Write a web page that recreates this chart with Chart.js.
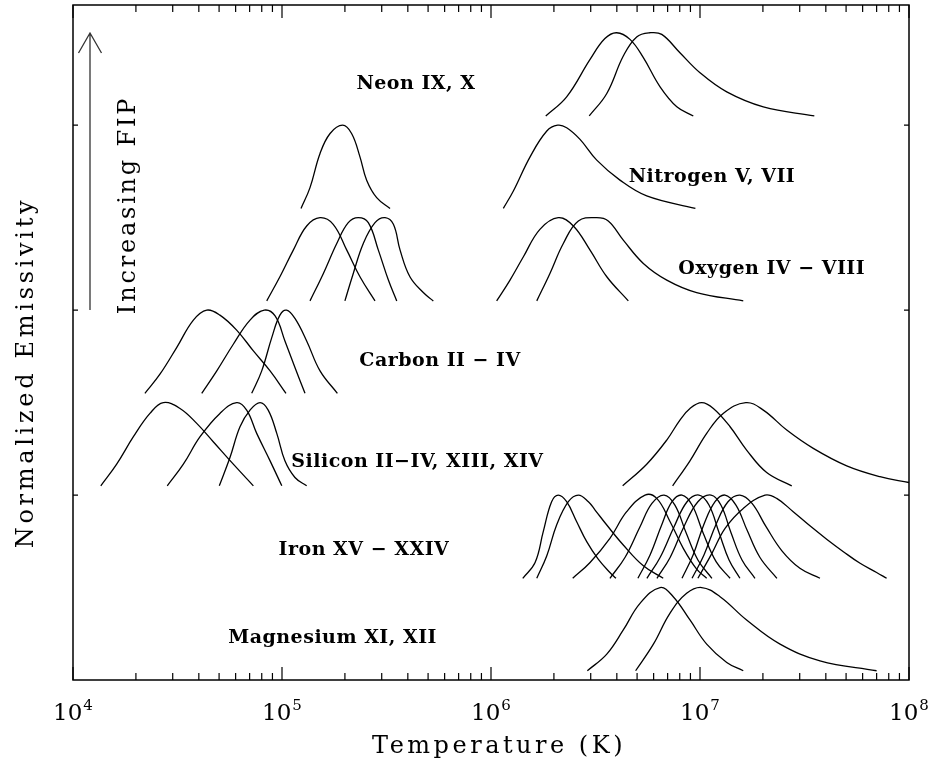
<!DOCTYPE html>
<html>
<head>
<meta charset="utf-8">
<title>Normalized Emissivity vs Temperature</title>
<script src="https://cdn.jsdelivr.net/npm/chart.js@4/dist/chart.umd.min.js"></script>
<style>
  html, body { margin: 0; padding: 0; background: #fff; }
  canvas { display: block; }
</style>
</head>
<body>
<canvas id="chart" width="937" height="765"></canvas>
<script>
// ---- Axis definitions -------------------------------------------------
const T_MIN = 1e4;
const T_MAX = 1e8;
const majorTicks = [1e4, 1e5, 1e6, 1e7, 1e8];
const majorTickExponents = ['4', '5', '6', '7', '8'];
const minorMultipliers = [2, 3, 4, 5, 6, 7, 8, 9];
const yTicks = [1, 2, 3];
const Y_MAX = 3.65;

// ---- Element rows, bottom to top --------------------------------------
const rowNames = [
  'Magnesium XI, XII',
  'Iron XV \u2212 XXIV',
  'Silicon II\u2212IV, XIII, XIV',
  'Carbon II \u2212 IV',
  'Oxygen IV \u2212 VIII',
  'Nitrogen V, VII',
  'Neon IX, X'
];

// ---- Emissivity curves: [log10 T, emissivity normalized to peak] -------
const MG_XI   = [[6.461,0],[6.554,0.20],[6.633,0.49],[6.713,0.81],[6.809,1],[6.872,0.89],[6.952,0.61],[7.032,0.32],[7.128,0.10],[7.207,0]];
const MG_XII  = [[6.692,0],[6.777,0.32],[6.856,0.69],[6.936,0.93],[7.008,1],[7.096,0.89],[7.223,0.61],[7.383,0.32],[7.574,0.12],[7.845,0]];

const FE_XV    = [[6.152,0],[6.211,0.19],[6.250,0.56],[6.290,0.92],[6.322,1],[6.362,0.92],[6.410,0.68],[6.458,0.44],[6.513,0.23],[6.569,0.07],[6.598,0]];
const FE_XVI   = [[6.219,0],[6.267,0.27],[6.314,0.64],[6.370,0.92],[6.418,1],[6.466,0.92],[6.498,0.82],[6.554,0.64],[6.633,0.40],[6.729,0.15],[6.824,0]];
const FE_XVII  = [[6.391,0],[6.474,0.19],[6.569,0.48],[6.649,0.80],[6.737,1],[6.793,0.96],[6.857,0.68],[6.920,0.36],[6.984,0.11],[7.032,0]];
const FE_XVIII = [[6.569,0],[6.641,0.25],[6.713,0.62],[6.770,0.90],[6.828,1],[6.880,0.88],[6.933,0.55],[6.990,0.22],[7.057,0]];
const FE_XIX   = [[6.703,0],[6.761,0.28],[6.818,0.65],[6.866,0.92],[6.914,1],[6.962,0.88],[7.014,0.55],[7.077,0.20],[7.144,0]];
const FE_XX    = [[6.746,0],[6.809,0.25],[6.876,0.62],[6.938,0.92],[6.995,1],[7.043,0.88],[7.091,0.55],[7.139,0.22],[7.191,0]];
const FE_XXI   = [[6.794,0],[6.857,0.25],[6.923,0.62],[6.990,0.92],[7.053,1],[7.100,0.88],[7.148,0.55],[7.201,0.22],[7.263,0]];
const FE_XXII  = [[6.914,0],[6.967,0.28],[7.019,0.65],[7.072,0.92],[7.120,1],[7.172,0.88],[7.225,0.58],[7.287,0.25],[7.368,0]];
const FE_XXIII = [[6.962,0],[7.019,0.28],[7.077,0.65],[7.134,0.92],[7.191,1],[7.249,0.90],[7.316,0.62],[7.392,0.33],[7.478,0.12],[7.574,0]];
const FE_XXIV  = [[6.990,0],[7.057,0.30],[7.120,0.60],[7.207,0.84],[7.311,1],[7.367,0.96],[7.446,0.80],[7.526,0.63],[7.606,0.47],[7.686,0.32],[7.766,0.18],[7.845,0.07],[7.893,0]];

const SI_II   = [[4.133,0],[4.209,0.26],[4.289,0.59],[4.368,0.87],[4.432,1],[4.512,0.93],[4.592,0.75],[4.671,0.53],[4.767,0.26],[4.863,0]];
const SI_III  = [[4.451,0],[4.528,0.26],[4.608,0.59],[4.703,0.87],[4.783,1],[4.831,0.91],[4.879,0.63],[4.943,0.30],[4.999,0]];
const SI_IV   = [[4.700,0],[4.751,0.34],[4.799,0.71],[4.847,0.91],[4.895,1],[4.934,0.91],[4.975,0.63],[5.014,0.30],[5.062,0.10],[5.118,0]];
const SI_XIII = [[6.630,0],[6.745,0.26],[6.841,0.55],[6.904,0.79],[6.952,0.93],[7.008,1],[7.064,0.93],[7.144,0.71],[7.223,0.43],[7.319,0.16],[7.439,0]];
const SI_XIV  = [[6.869,0],[6.952,0.30],[7.032,0.63],[7.111,0.87],[7.219,1],[7.303,0.91],[7.415,0.67],[7.542,0.45],[7.702,0.24],[7.861,0.11],[8.000,0.04]];

const C_II  = [[4.344,0],[4.416,0.23],[4.496,0.55],[4.576,0.88],[4.640,1],[4.703,0.94],[4.783,0.76],[4.863,0.51],[4.943,0.27],[5.019,0]];
const C_III = [[4.616,0],[4.688,0.27],[4.767,0.59],[4.847,0.88],[4.915,1],[4.967,0.93],[5.014,0.63],[5.062,0.31],[5.110,0]];
const C_IV  = [[4.855,0],[4.903,0.27],[4.951,0.67],[4.990,0.94],[5.022,1],[5.062,0.90],[5.118,0.63],[5.182,0.27],[5.265,0]];

const O_IV   = [[4.927,0],[4.990,0.29],[5.054,0.61],[5.118,0.90],[5.182,1],[5.245,0.92],[5.310,0.61],[5.373,0.29],[5.445,0]];
const O_V    = [[5.134,0],[5.198,0.33],[5.262,0.69],[5.317,0.94],[5.365,1],[5.413,0.94],[5.461,0.61],[5.509,0.25],[5.549,0]];
const O_VI   = [[5.301,0],[5.341,0.33],[5.389,0.69],[5.445,0.94],[5.493,1],[5.533,0.92],[5.565,0.61],[5.612,0.29],[5.676,0.10],[5.724,0]];
const O_VII  = [[6.027,0],[6.091,0.25],[6.155,0.53],[6.234,0.86],[6.322,1],[6.394,0.90],[6.474,0.61],[6.554,0.29],[6.657,0]];
const O_VIII = [[6.219,0],[6.282,0.33],[6.346,0.69],[6.418,0.96],[6.506,1],[6.561,0.96],[6.633,0.73],[6.729,0.45],[6.841,0.25],[6.984,0.10],[7.207,0]];

const N_V   = [[5.091,0],[5.134,0.25],[5.182,0.66],[5.230,0.90],[5.290,1],[5.333,0.90],[5.373,0.62],[5.405,0.34],[5.453,0.13],[5.517,0]];
const N_VII = [[6.059,0],[6.107,0.21],[6.187,0.62],[6.267,0.93],[6.319,1],[6.362,0.97],[6.426,0.83],[6.506,0.58],[6.617,0.34],[6.745,0.15],[6.978,0]];

const NE_IX = [[6.262,0],[6.362,0.23],[6.474,0.68],[6.545,0.93],[6.601,1],[6.665,0.92],[6.729,0.70],[6.809,0.35],[6.889,0.11],[6.968,0]];
const NE_X  = [[6.470,0],[6.554,0.27],[6.633,0.72],[6.697,0.95],[6.761,1],[6.817,0.98],[6.904,0.76],[7.000,0.52],[7.128,0.29],[7.303,0.11],[7.547,0]];

// Which row each ion curve belongs to (index into rowNames)
const curveRows = [
  [0, MG_XI], [0, MG_XII],
  [1, FE_XV], [1, FE_XVI], [1, FE_XVII], [1, FE_XVIII], [1, FE_XIX],
  [1, FE_XX], [1, FE_XXI], [1, FE_XXII], [1, FE_XXIII], [1, FE_XXIV],
  [2, SI_II], [2, SI_III], [2, SI_IV], [2, SI_XIII], [2, SI_XIV],
  [3, C_II], [3, C_III], [3, C_IV],
  [4, O_IV], [4, O_V], [4, O_VI], [4, O_VII], [4, O_VIII],
  [5, N_V], [5, N_VII],
  [6, NE_IX], [6, NE_X]
];

// Stacking: each row sits half a unit above the previous one
const ROW_BASE = 0.05;
const ROW_STEP = 0.5;
const PEAK_HEIGHT = 0.45;

// Row label placement (log10 T of label centre, y of text baseline)
const rowLabelPlacement = [
  [5.242, 0.200],
  [5.392, 0.676],
  [5.648, 1.152],
  [5.756, 1.698],
  [7.343, 2.196],
  [7.057, 2.695],
  [5.641, 3.196]
];

const datasets = curveRows.map(([row, pts]) => ({
  data: pts.map(([lt, e]) => ({ x: Math.pow(10, lt), y: ROW_BASE + ROW_STEP * row + PEAK_HEIGHT * e })),
  borderColor: '#000',
  borderWidth: 1.3,
  pointRadius: 0,
  fill: false,
  tension: 0.4
}));

const SERIF = '"DejaVu Serif", "Liberation Serif", serif';

// Frame, inward ticks, tick labels, titles and row annotations
const decorPlugin = {
  id: 'decor',
  afterDatasetsDraw(chart) {
    const { ctx, chartArea: a, scales: { x, y } } = chart;
    ctx.save();
    ctx.strokeStyle = '#000';
    ctx.fillStyle = '#000';

    // frame
    ctx.lineWidth = 1.5;
    ctx.strokeRect(a.left, a.top, a.right - a.left, a.bottom - a.top);

    // x ticks on bottom and top, pointing inward
    ctx.lineWidth = 1.2;
    ctx.beginPath();
    const tick = (px, len) => {
      ctx.moveTo(px, a.bottom); ctx.lineTo(px, a.bottom - len);
      ctx.moveTo(px, a.top);    ctx.lineTo(px, a.top + len);
    };
    majorTicks.forEach((v, i) => {
      tick(x.getPixelForValue(v), 13);
      if (i < majorTicks.length - 1) {
        minorMultipliers.forEach(m => tick(x.getPixelForValue(v * m), 7));
      }
    });
    // y ticks on left and right
    yTicks.forEach(v => {
      const py = y.getPixelForValue(v);
      ctx.moveTo(a.left, py);  ctx.lineTo(a.left + 5, py);
      ctx.moveTo(a.right, py); ctx.lineTo(a.right - 5, py);
    });
    ctx.stroke();

    // x tick labels: 10 with superscript exponent
    majorTicks.forEach((v, i) => {
      const px = x.getPixelForValue(v);
      ctx.font = '23px ' + SERIF;
      const wBase = ctx.measureText('10').width;
      ctx.font = '15px ' + SERIF;
      const wExp = ctx.measureText(majorTickExponents[i]).width;
      const x0 = px - (wBase + wExp + 1) / 2;
      ctx.textAlign = 'left';
      ctx.textBaseline = 'alphabetic';
      ctx.font = '23px ' + SERIF;
      ctx.fillText('10', x0, a.bottom + 40);
      ctx.font = '15px ' + SERIF;
      ctx.fillText(majorTickExponents[i], x0 + wBase + 1, a.bottom + 30);
    });

    // axis titles
    ctx.textAlign = 'center';
    ctx.textBaseline = 'alphabetic';
    ctx.font = '24px ' + SERIF;
    ctx.letterSpacing = '3.5px';
    ctx.fillText('Temperature (K)', (a.left + a.right) / 2 + 8, a.bottom + 73);

    ctx.save();
    ctx.translate(33, (a.top + a.bottom) / 2 + 30);
    ctx.rotate(-Math.PI / 2);
    ctx.letterSpacing = '3.7px';
    ctx.fillText('Normalized Emissivity', 0, 0);
    ctx.restore();

    // "Increasing FIP" arrow
    const ax = a.left + 17;
    ctx.lineWidth = 1.3;
    ctx.strokeStyle = '#333';
    ctx.beginPath();
    ctx.moveTo(ax, a.top + 305);
    ctx.lineTo(ax, a.top + 28);
    ctx.moveTo(ax - 11.5, a.top + 48);
    ctx.lineTo(ax, a.top + 28);
    ctx.lineTo(ax + 11.5, a.top + 48);
    ctx.stroke();

    ctx.save();
    ctx.translate(a.left + 62, a.top + 200);
    ctx.rotate(-Math.PI / 2);
    ctx.letterSpacing = '2.8px';
    ctx.fillText('Increasing FIP', 0, 0);
    ctx.restore();

    // row labels
    ctx.letterSpacing = '0.5px';
    ctx.font = 'bold 19px ' + SERIF;
    rowNames.forEach((name, i) => {
      const [lt, yv] = rowLabelPlacement[i];
      ctx.fillText(name, x.getPixelForValue(Math.pow(10, lt)), y.getPixelForValue(yv));
    });

    ctx.restore();
  }
};

new Chart(document.getElementById('chart'), {
  type: 'line',
  data: { datasets },
  options: {
    responsive: false,
    animation: false,
    layout: { padding: { left: 73, right: 28, top: 5, bottom: 85 } },
    plugins: { legend: { display: false }, tooltip: { enabled: false } },
    scales: {
      x: { type: 'logarithmic', min: T_MIN, max: T_MAX, display: false },
      y: { type: 'linear', min: 0, max: Y_MAX, display: false }
    }
  },
  plugins: [decorPlugin]
});
</script>
</body>
</html>
